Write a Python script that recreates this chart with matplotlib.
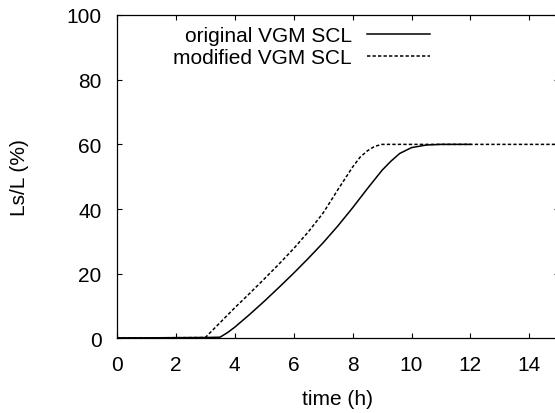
import matplotlib

matplotlib.use("Agg")

import matplotlib.pyplot as plt

# time (h) and Ls/L (%)
ORIG_T = [0, 1, 2, 3, 3.5, 3.75, 4.0, 4.5, 5.0, 5.5, 6.0, 6.5, 7.0, 7.5, 8.0,
          8.5, 9.0, 9.3, 9.6, 10.0, 10.5, 11.0, 12.0]
ORIG_Y = [0.2, 0.2, 0.25, 0.3, 0.4, 1.8, 3.5, 7.4, 11.5, 15.8, 20.2, 24.8, 29.6,
          34.8, 40.4, 46.3, 52.0, 54.8, 57.2, 59.0, 59.8, 60.0, 60.0]

MOD_T = [0, 1, 2, 3.0, 3.25, 3.5, 4.0, 4.5, 5.0, 5.5, 6.0, 6.5, 7.0, 7.5, 8.0,
         8.25, 8.5, 8.75, 9.0, 10.0, 12.0, 15.0]
MOD_Y = [0.2, 0.2, 0.25, 0.3, 2.6, 4.9, 9.5, 13.9, 18.4, 23.0, 27.8, 33.0, 38.8,
         46.0, 53.0, 56.0, 58.0, 59.4, 60.0, 60.0, 60.0, 60.0]

X_TICKS = [0, 2, 4, 6, 8, 10, 12, 14]
Y_TICKS = [0, 20, 40, 60, 80, 100]

FS = 15

plt.rcParams["font.family"] = ["Liberation Sans", "DejaVu Sans"]
plt.rcParams["font.size"] = FS

fig = plt.figure(figsize=(5.55, 4.14), dpi=100)
ax = fig.add_axes([0.2108, 0.18, 0.7960, 0.7814])

ax.plot(ORIG_T, ORIG_Y, color="black", linewidth=1.1, label="original VGM SCL")
ax.plot(MOD_T, MOD_Y, color="black", linewidth=1.1, dashes=(2.2, 1.4),
        label="modified VGM SCL")

ax.set_xlim(0, 15)
ax.set_ylim(0, 100)
ax.set_xticks(X_TICKS)
ax.set_yticks(Y_TICKS)
ax.tick_params(direction="in", length=3.5, width=0.8, top=True, right=True,
               labelsize=FS, colors="black")
ax.tick_params(axis="x", pad=12)
ax.tick_params(axis="y", pad=11)
for spine in ax.spines.values():
    spine.set_linewidth(0.9)

ax.set_xlabel("time (h)", fontsize=FS, labelpad=11)
ax.set_ylabel("Ls/L (%)", fontsize=FS, labelpad=27)

ax.legend(loc="upper right", bbox_to_anchor=(0.708, 0.965), frameon=False,
          markerfirst=False, handlelength=3.0, handletextpad=0.75,
          labelspacing=0.15, borderpad=0, borderaxespad=0, fontsize=FS)

fig.savefig("out.png", dpi=100)
